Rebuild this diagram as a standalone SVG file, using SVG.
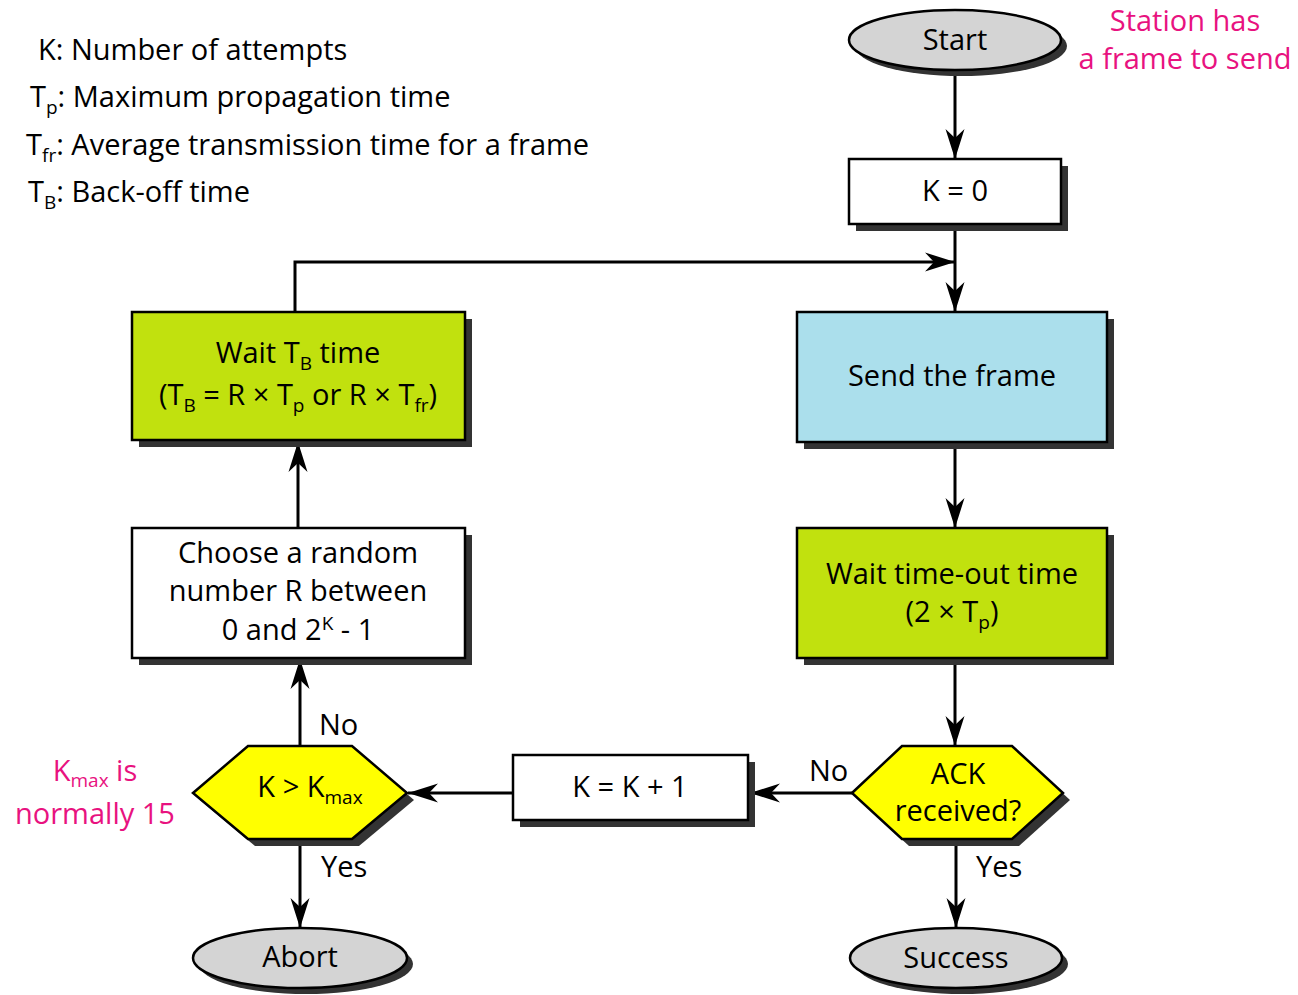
<svg xmlns="http://www.w3.org/2000/svg" width="1298" height="995" viewBox="0 0 1298 995">
<defs>
<marker id="arr" markerUnits="userSpaceOnUse" markerWidth="30" markerHeight="20" viewBox="0 -10 30 20" refX="30" refY="0" orient="auto">
<path d="M30,0 L0,-9.5 L9,0 L0,9.5 Z" fill="#000"/>
</marker>
</defs>
<style>
text{font-family:"Open Sans","Liberation Sans",sans-serif;font-size:29px;fill:#000}
.c{text-anchor:middle}
.pink{fill:#e8127f}
.sh{fill:#333}
.box{stroke:#000;stroke-width:2.5}
.w{fill:#fff}
.lime{fill:#c1e10e}
.blue{fill:#abdfec}
.yel{fill:#ffff00}
.gray{fill:#d4d4d4}
.ln{fill:none;stroke:#000;stroke-width:3}
.s{font-size:19px}
</style>
<rect width="1298" height="995" fill="#fff"/>
<g id="legend">
<text x="38" y="60">K: Number of attempts</text>
<text x="30" y="107">T<tspan class="s" dy="7">p</tspan><tspan dy="-7">: Maximum propagation time</tspan></text>
<text x="26" y="155">T<tspan class="s" dy="7">fr</tspan><tspan dy="-7">: Average transmission time for a frame</tspan></text>
<text x="28" y="202">T<tspan class="s" dy="7">B</tspan><tspan dy="-7">: Back-off time</tspan></text>
</g>
<g id="note-station">
<text class="c pink" x="1185" y="31">Station has</text>
<text class="c pink" x="1185" y="69">a frame to send</text>
</g>
<g id="note-kmax">
<text class="c pink" x="95" y="781">K<tspan class="s" dy="6">max</tspan><tspan dy="-6"> is</tspan></text>
<text class="c pink" x="95" y="824">normally 15</text>
</g>
<g id="connectors">
<path class="ln" d="M955,71 V159" marker-end="url(#arr)"/>
<path class="ln" d="M955,225 V312" marker-end="url(#arr)"/>
<path class="ln" d="M295,312 V262 H955" marker-end="url(#arr)"/>
<path class="ln" d="M955,443 V528" marker-end="url(#arr)"/>
<path class="ln" d="M955,659 V746" marker-end="url(#arr)"/>
<path class="ln" d="M956,840 V928" marker-end="url(#arr)"/>
<path class="ln" d="M852,793 H750" marker-end="url(#arr)"/>
<path class="ln" d="M513,793 H408" marker-end="url(#arr)"/>
<path class="ln" d="M300,840 V928" marker-end="url(#arr)"/>
<path class="ln" d="M300,746 V659" marker-end="url(#arr)"/>
<path class="ln" d="M298,528 V442" marker-end="url(#arr)"/>
<text x="319" y="735">No</text>
<text x="321" y="877">Yes</text>
<text x="809" y="781">No</text>
<text x="976" y="877">Yes</text>
</g>
<g id="start">
<ellipse class="sh" cx="961" cy="46" rx="106" ry="30"/>
<ellipse class="gray box" cx="955" cy="40" rx="106" ry="30"/>
<text class="c" x="955" y="50">Start</text>
</g>
<g id="k0">
<rect class="sh" x="856" y="166" width="212" height="65"/>
<rect class="w box" x="849" y="159" width="212" height="65"/>
<text class="c" x="955" y="201">K = 0</text>
</g>
<g id="send">
<rect class="sh" x="804" y="319" width="310" height="130"/>
<rect class="blue box" x="797" y="312" width="310" height="130"/>
<text class="c" x="952" y="386">Send the frame</text>
</g>
<g id="waittimeout">
<rect class="sh" x="804" y="535" width="310" height="130"/>
<rect class="lime box" x="797" y="528" width="310" height="130"/>
<text class="c" x="952" y="584">Wait time-out time</text>
<text class="c" x="952" y="622">(2 × T<tspan class="s" dy="7">p</tspan><tspan dy="-7">)</tspan></text>
</g>
<g id="ack">
<polygon class="sh" points="859,800 909,753 1019,753 1070,800 1019,846 909,846"/>
<polygon class="yel box" points="852,793 902,746 1012,746 1063,793 1012,839 902,839"/>
<text class="c" x="958" y="784">ACK</text>
<text class="c" x="958" y="821">received?</text>
</g>
<g id="success">
<ellipse class="sh" cx="962" cy="964" rx="106" ry="30"/>
<ellipse class="gray box" cx="956" cy="958" rx="106" ry="30"/>
<text class="c" x="956" y="968">Success</text>
</g>
<g id="kinc">
<rect class="sh" x="520" y="762" width="235" height="65"/>
<rect class="w box" x="513" y="755" width="235" height="65"/>
<text class="c" x="630" y="797">K = K + 1</text>
</g>
<g id="kmax">
<polygon class="sh" points="200,800 255,753 359,753 414,800 359,846 255,846"/>
<polygon class="yel box" points="193,793 248,746 352,746 407,793 352,839 248,839"/>
<text class="c" x="310" y="797">K &gt; K<tspan class="s" dy="7">max</tspan></text>
</g>
<g id="abort">
<ellipse class="sh" cx="306" cy="964" rx="107" ry="30"/>
<ellipse class="gray box" cx="300" cy="958" rx="107" ry="30"/>
<text class="c" x="300" y="967">Abort</text>
</g>
<g id="choose">
<rect class="sh" x="139" y="535" width="333" height="130"/>
<rect class="w box" x="132" y="528" width="333" height="130"/>
<text class="c" x="298" y="563">Choose a random</text>
<text class="c" x="298" y="601">number R between</text>
<text class="c" x="298" y="640">0 and 2<tspan class="s" dy="-10">K</tspan><tspan dy="10"> - 1</tspan></text>
</g>
<g id="waittb">
<rect class="sh" x="139" y="319" width="333" height="128"/>
<rect class="lime box" x="132" y="312" width="333" height="128"/>
<text class="c" x="298" y="363">Wait T<tspan class="s" dy="7">B</tspan><tspan dy="-7"> time</tspan></text>
<text class="c" x="298" y="405">(T<tspan class="s" dy="7">B</tspan><tspan dy="-7"> = R × T</tspan><tspan class="s" dy="7">p</tspan><tspan dy="-7"> or R × T</tspan><tspan class="s" dy="7">fr</tspan><tspan dy="-7">)</tspan></text>
</g>
</svg>
